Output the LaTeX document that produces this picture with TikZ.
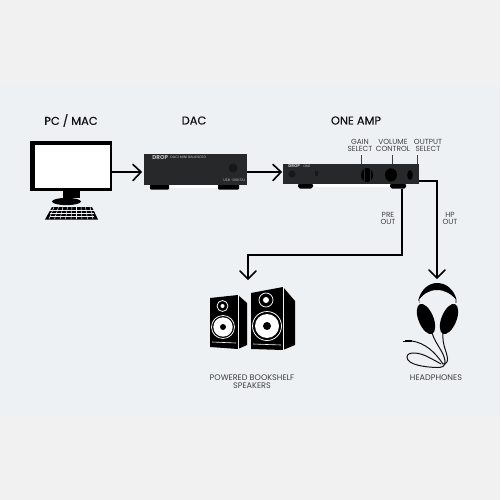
\documentclass[tikz,border=0pt]{standalone}
\usepackage{fontspec}
\setmainfont{Poppins}
\newfontfamily\headfont[FakeBold=0.35]{Poppins}
\usetikzlibrary{calc}
\definecolor{bgmid}{HTML}{EDF1F4}
\definecolor{bgout}{HTML}{F1F1F1}
\definecolor{ink}{HTML}{111111}
\definecolor{dev}{HTML}{26282A}
\definecolor{devdark}{HTML}{17181A}
\definecolor{lab}{HTML}{404040}
\tikzset{
  head/.style={font=\headfont\fontsize{6.5}{8}\selectfont,text=ink,inner sep=0pt,anchor=center},
  small/.style={font=\fontsize{4.6}{5}\selectfont,text=lab,inner sep=0pt,align=center,anchor=center},
  smalltop/.style={font=\fontsize{4.2}{4.6}\selectfont,text=lab,inner sep=0pt,align=center,anchor=center},
  wire/.style={draw=black,line width=0.32mm},
  tick/.style={draw=lab,line width=0.2mm},
  chev/.style={draw=black,line width=0.32mm,line cap=round,line join=miter},
  foot/.style={fill=black},
  tiny/.style={font=\fontsize{2}{3}\selectfont,text=white!75!black,inner sep=0pt,anchor=west},
}
\begin{document}
\begin{tikzpicture}[x=0.02cm,y=-0.02cm]
\useasboundingbox (0,0) rectangle (500,500);
\fill[bgout] (0,0) rectangle (500,500);
\fill[bgmid] (0,84) rectangle (500,417);
% headings
\node[head] (pc) at (71,120.5) {PC / MAC};
\node[head] (dactxt) at (194,120.5) {DAC};
\node[head] (amptxt) at (356,120.5) {ONE AMP};
% monitor
\fill[black] (30,141) rectangle (112,191);
\fill[white] (35,145) rectangle (110,188);
\fill[black] (63,191) -- (80,191) -- (80,198) -- (63,198) -- cycle;
\fill[black] (66.5,201.5) ellipse (14.5 and 3.6);
\fill[black] (52,207) -- (92,207) -- (98,219.5) -- (45,219.5) -- cycle;
\foreach \r in {210,213,216}{\draw[bgmid,line width=0.1mm] (50,\r) -- (94,\r);}
\foreach \k in {0,...,8}{\draw[bgmid,line width=0.1mm] ($(54,207)+(\k*4.5,0)$) -- ($(49,219)+(\k*5.5,0)$);}
\coordinate (mon) at (112,172);
% DAC
\fill[white] (165,184) rectangle (222,187.5);
\fill[foot,rounded corners=0.5pt] (150,184) rectangle (169,189.5);
\fill[foot,rounded corners=0.5pt] (218,184) rectangle (239,189.5);
\fill[dev] (144,154) rectangle (247,184.5);
\fill[devdark] (233,168) circle (4.5);
\node[tiny,font=\fontsize{3.2}{4}\bfseries\selectfont] (d1) at (152,157.5) {DROP};
\node[tiny] (d2) at (170,157.5) {DAC1 MINI BALANCED};
\node[tiny] (d3) at (223,180.5) {USB · DIGITAL};
\coordinate (dacin) at (141,172);
\coordinate (dacout) at (247,172);
% Amp
\fill[white] (305,183) rectangle (395,187);
\fill[foot,rounded corners=1pt] (298,183) rectangle (313,188.5);
\fill[foot,rounded corners=1pt] (390,183) rectangle (406,188.5);
\fill[dev] (283,164) rectangle (419,183.5);
\fill[devdark] (292,174) circle (3.6);
\fill[devdark] (315,171) rectangle (318,176);
\fill[black] (367,175) ellipse (6 and 7);
\draw[dev,line width=0.15mm] (364,168) -- (364,182) (370,168) -- (370,182);
\fill[black] (391,175) ellipse (6 and 6.7);
\fill[black] (410,175) ellipse (2.8 and 5);
\node[tiny,font=\fontsize{2.4}{3}\bfseries\selectfont] (a1) at (288,166.5) {DROP};
\node[tiny] (a2) at (303,166.5) {ONE};
\coordinate (ampin) at (281,172);
\draw[wire] (mon) -- (dacin);
\draw[chev] (133,164.5) -- (141,172) -- (133,180.5);
\draw[wire] (dacout) -- (ampin);
\draw[chev] (273,164.5) -- (281,172) -- (273,180.5);
% labels + ticks
\node[smalltop] (gain) at (360,145.5) {GAIN\\[-0.6pt]SELECT};
\node[smalltop] (vol) at (393,145.5) {VOLUME\\[-0.6pt]CONTROL};
\node[smalltop] (out) at (428,145.5) {OUTPUT\\[-0.6pt]SELECT};
\coordinate (g1) at (361,155); \coordinate (g2) at (361,164);
\coordinate (v1) at (392,155); \coordinate (v2) at (392,164);
\coordinate (o1) at (417,155); \coordinate (o2) at (417,164);
\draw[tick] (g1) -- (g2);
\draw[tick] (v1) -- (v2);
\draw[tick] (o1) -- (o2);
\node[smalltop] (pre) at (388,218) {PRE\\[-0.6pt]OUT};
\node[smalltop] (hp) at (450,218) {HP\\[-0.6pt]OUT};
% out wires
\coordinate (p0) at (402,189); \coordinate (p1) at (402,255);
\coordinate (p2) at (248,255); \coordinate (p3) at (248,279);
\draw[wire] (p0) -- (p1) -- (p2) -- (p3);
\draw[chev] (240,271) -- (p3) -- (256,271);
\coordinate (h0) at (419,181); \coordinate (h1) at (437,181); \coordinate (h2) at (437,278);
\draw[wire] (h0) -- (h1) -- (h2);
\draw[chev] (429,270) -- (h2) -- (445,270);
% left speaker
\fill[black] (210,298) -- (238,295) -- (247,303) -- (247,345) -- (238,349) -- (210,347) -- cycle;
\draw[bgmid,line width=0.12mm] (238,295) -- (238,349);
\draw[white,line width=0.12mm] (212,342) -- (236,343);
\fill[white] (223,327) circle (9.7);
\draw[white,line width=0.15mm] (223,327) circle (11.5);
\fill[black] (223,327) circle (3);
\draw[white,line width=0.15mm] (222.5,306) circle (5.5);
\fill[white] (222.5,306) circle (2);
% right speaker
\fill[black] (251,293) -- (283,287) -- (295,301) -- (295,345) -- (283,350) -- (251,349) -- cycle;
\draw[bgmid,line width=0.12mm] (283,287) -- (283,350);
\draw[white,line width=0.12mm] (253,344) -- (281,345);
\fill[white] (267,326) circle (12);
\draw[white,line width=0.15mm] (267,326) circle (14.5);
\fill[black] (267,326) circle (4);
\draw[white,line width=0.15mm] (266,300) circle (7);
\fill[white] (266,300) circle (3);
\node[small] (spk) at (252,381.5) {POWERED BOOKSHELF\\[-0.6pt]SPEAKERS};
% headphones
\fill[black] (418,301) .. controls (421,289) and (429,283) .. (437,283) .. controls (446,283) and (454,289) .. (457,301)
  .. controls (452,294) and (445,290) .. (437,290) .. controls (429,290) and (423,294) .. (418,301) -- cycle;
\fill[white!60!black] (418.5,299) rectangle (420,303);
\fill[white!60!black] (455,299) rectangle (456.5,303);
\fill[black,rotate around={22:(426,319)}] (426,319) ellipse (7.5 and 16);
\fill[black,rotate around={-22:(449,319)}] (449,319) ellipse (7.5 and 16);
\draw[ink,line width=0.2mm] (432,333) .. controls (436,345) and (444,352) .. (445,361)
  .. controls (446,366) and (442,368) .. (436,367.5)
  .. controls (425,367) and (407,365) .. (407,357)
  .. controls (407,351) and (420,352) .. (430,358)
  .. controls (436,361) and (441,364) .. (441,364);
\draw[ink,line width=0.2mm] (443,333) .. controls (442,345) and (447,352) .. (447.5,358)
  .. controls (448,362) and (446,364) .. (443,364)
  .. controls (435,352) and (425,343) .. (412,341);
\draw[black,line width=0.45mm] (405,341) -- (412,341);
\draw[ink,line width=0.15mm] (403,341) -- (405,341);
\node[small] (hph) at (436,378) {HEADPHONES};
\end{tikzpicture}
\end{document}
